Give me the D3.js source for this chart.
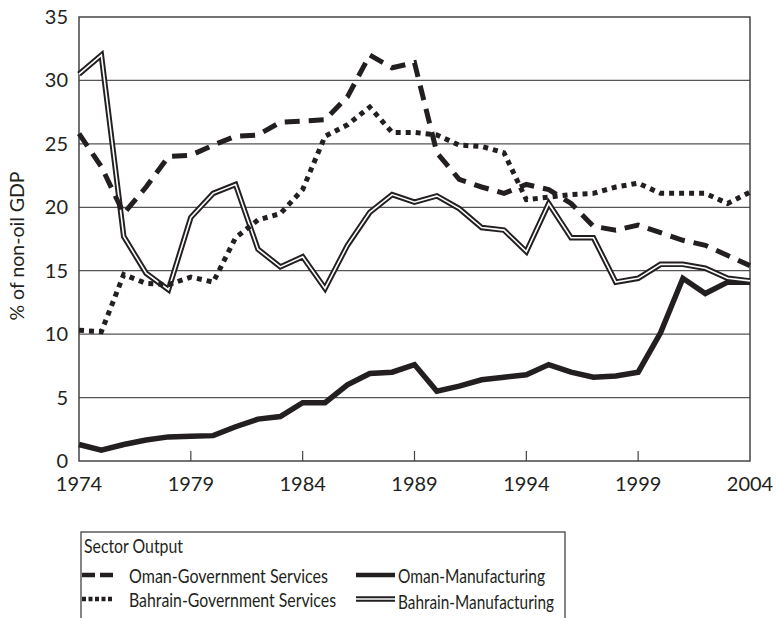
<!DOCTYPE html>
<html>
<head>
<meta charset="utf-8">
<script src="https://cdn.jsdelivr.net/npm/d3@7"></script>
<style>
  body { margin: 0; background: #fff; }
  text { font-family: "Lato", "Open Sans", sans-serif; fill: #231f20; }
</style>
</head>
<body>
<svg id="chart"></svg>
<script>
const years = d3.range(1974, 2005);
const yTicks = [0, 5, 10, 15, 20, 25, 30, 35];
const xTickLabels = [1974, 1979, 1984, 1989, 1994, 1999, 2004];

const omanGov = [25.8, 23.2, 19.5, 21.6, 24.0, 24.1, 24.9, 25.6, 25.7, 26.7, 26.8, 26.9, 28.7, 32.0, 31.0, 31.4,
  24.3, 22.2, 21.6, 21.1, 21.8, 21.4, 20.3, 18.5, 18.2, 18.6, 18.0, 17.4, 17.0, 16.2, 15.4];
const bahrainGov = [10.3, 10.2, 14.7, 14.0, 13.9, 14.5, 14.1, 17.6, 19.0, 19.5, 21.4, 25.6, 26.5, 27.9, 25.9, 25.9,
  25.7, 24.9, 24.8, 24.3, 20.6, 20.8, 21.0, 21.1, 21.6, 21.9, 21.1, 21.1, 21.1, 20.3, 21.2];
const omanMfg = [1.3, 0.85, 1.3, 1.65, 1.9, 1.95, 2.0, 2.7, 3.3, 3.5, 4.6, 4.6, 6.0, 6.9, 7.0, 7.6,
  5.5, 5.9, 6.4, 6.6, 6.8, 7.6, 7.0, 6.6, 6.7, 7.0, 10.1, 14.4, 13.2, 14.1, 14.1];
const bahrainMfg = [30.5, 32.0, 17.7, 14.8, 13.5, 19.2, 21.1, 21.8, 16.7, 15.3, 16.1, 13.6, 17.0, 19.6, 21.0, 20.4,
  20.9, 19.9, 18.4, 18.2, 16.5, 20.3, 17.6, 17.6, 14.1, 14.4, 15.5, 15.5, 15.2, 14.4, 14.2];

const width = 777, height = 618;
const margin = {left: 79, top: 17, right: 27, bottom: 157};

const svg = d3.select("#chart").attr("width", width).attr("height", height);

const x = d3.scaleLinear().domain([1974, 2004]).range([margin.left, width - margin.right]);
const y = d3.scaleLinear().domain([0, 35]).range([height - margin.bottom, margin.top]);

// grid lines
svg.append("g")
  .selectAll("line")
  .data(yTicks.filter(d => d > 0 && d < 35))
  .enter()
  .append("line")
  .attr("x1", x(1974)).attr("x2", x(2004))
  .attr("y1", d => y(d)).attr("y2", d => y(d))
  .attr("stroke", "#555")
  .attr("stroke-width", 1.2);

// frame
svg.append("rect")
  .attr("x", x(1974)).attr("y", y(35))
  .attr("width", x(2004) - x(1974)).attr("height", y(0) - y(35))
  .attr("fill", "none")
  .attr("stroke", "#444")
  .attr("stroke-width", 1.5);

// inner x ticks
svg.append("g")
  .selectAll("line")
  .data(xTickLabels.slice(1, -1))
  .enter()
  .append("line")
  .attr("x1", d => x(d)).attr("x2", d => x(d))
  .attr("y1", y(0)).attr("y2", y(0) - 10)
  .attr("stroke", "#444")
  .attr("stroke-width", 1.2);

// axis labels
svg.append("g")
  .selectAll("text")
  .data(yTicks)
  .enter()
  .append("text")
  .attr("x", 68)
  .attr("y", d => y(d) + 7)
  .attr("text-anchor", "end")
  .style("font-size", "20px")
  .text(d => d);

svg.append("g")
  .selectAll("text")
  .data(xTickLabels)
  .enter()
  .append("text")
  .attr("x", d => x(d))
  .attr("y", 491)
  .attr("text-anchor", "middle")
  .style("font-size", "20px")
  .text(d => d);

svg.append("text")
  .attr("transform", "translate(24,246) rotate(-90)")
  .attr("text-anchor", "middle")
  .style("font-size", "19.5px")
  .text("% of non-oil GDP");

const line = d3.line()
  .x((d, i) => x(years[i]))
  .y(d => y(d));

const plot = svg.append("g");

plot.append("path").datum(omanMfg)
  .attr("d", line).attr("fill", "none")
  .attr("stroke", "#231f20").attr("stroke-width", 5.5);

plot.append("path").datum(bahrainMfg)
  .attr("d", line).attr("fill", "none")
  .attr("stroke", "#231f20").attr("stroke-width", 5.5);
plot.append("path").datum(bahrainMfg)
  .attr("d", line).attr("fill", "none")
  .attr("stroke", "#fff").attr("stroke-width", 1.6);

plot.append("path").datum(bahrainGov)
  .attr("d", line).attr("fill", "none")
  .attr("stroke", "#231f20").attr("stroke-width", 5)
  .attr("stroke-dasharray", "5,5");

plot.append("path").datum(omanGov)
  .attr("d", line).attr("fill", "none")
  .attr("stroke", "#231f20").attr("stroke-width", 5)
  .attr("stroke-dasharray", "15,9");

// legend
const legend = svg.append("g");
legend.append("rect")
  .attr("x", 81).attr("y", 532)
  .attr("width", 484).attr("height", 120)
  .attr("fill", "none")
  .attr("stroke", "#444")
  .attr("stroke-width", 1.3);

legend.append("text")
  .attr("x", 84).attr("y", 553)
  .style("font-size", "19px")
  .attr("textLength", 99)
  .attr("lengthAdjust", "spacingAndGlyphs")
  .text("Sector Output");

const legendItems = [
  {name: "Oman-Government Services", col: 0, row: 0, type: "dash", w: 199},
  {name: "Bahrain-Government Services", col: 0, row: 1, type: "dot", w: 207},
  {name: "Oman-Manufacturing", col: 1, row: 0, type: "solid", w: 147},
  {name: "Bahrain-Manufacturing", col: 1, row: 1, type: "double", w: 156}
];

legendItems.forEach(item => {
  const sx = item.col === 0 ? 82 : 356;
  const ex = item.col === 0 ? 113 : 395;
  const tx = item.col === 0 ? 129 : 398;
  const ly = 575 + item.row * 24;
  const g = legend.append("g");
  if (item.type === "double") {
    g.append("line").attr("x1", sx).attr("x2", ex).attr("y1", ly).attr("y2", ly)
      .attr("stroke", "#231f20").attr("stroke-width", 5.5);
    g.append("line").attr("x1", sx).attr("x2", ex).attr("y1", ly).attr("y2", ly)
      .attr("stroke", "#fff").attr("stroke-width", 1.6);
  } else {
    g.append("line").attr("x1", sx).attr("x2", ex).attr("y1", ly).attr("y2", ly)
      .attr("stroke", "#231f20").attr("stroke-width", 4.5)
      .attr("stroke-dasharray", item.type === "dash" ? "13,5" : item.type === "dot" ? "4,2.5" : null);
  }
  g.append("text")
    .attr("x", tx).attr("y", ly + 8 + (item.col === 1 && item.row === 1 ? 2 : 0))
    .style("font-size", "19px")
    .attr("textLength", item.w)
    .attr("lengthAdjust", "spacingAndGlyphs")
    .text(item.name);
});
</script>
</body>
</html>
